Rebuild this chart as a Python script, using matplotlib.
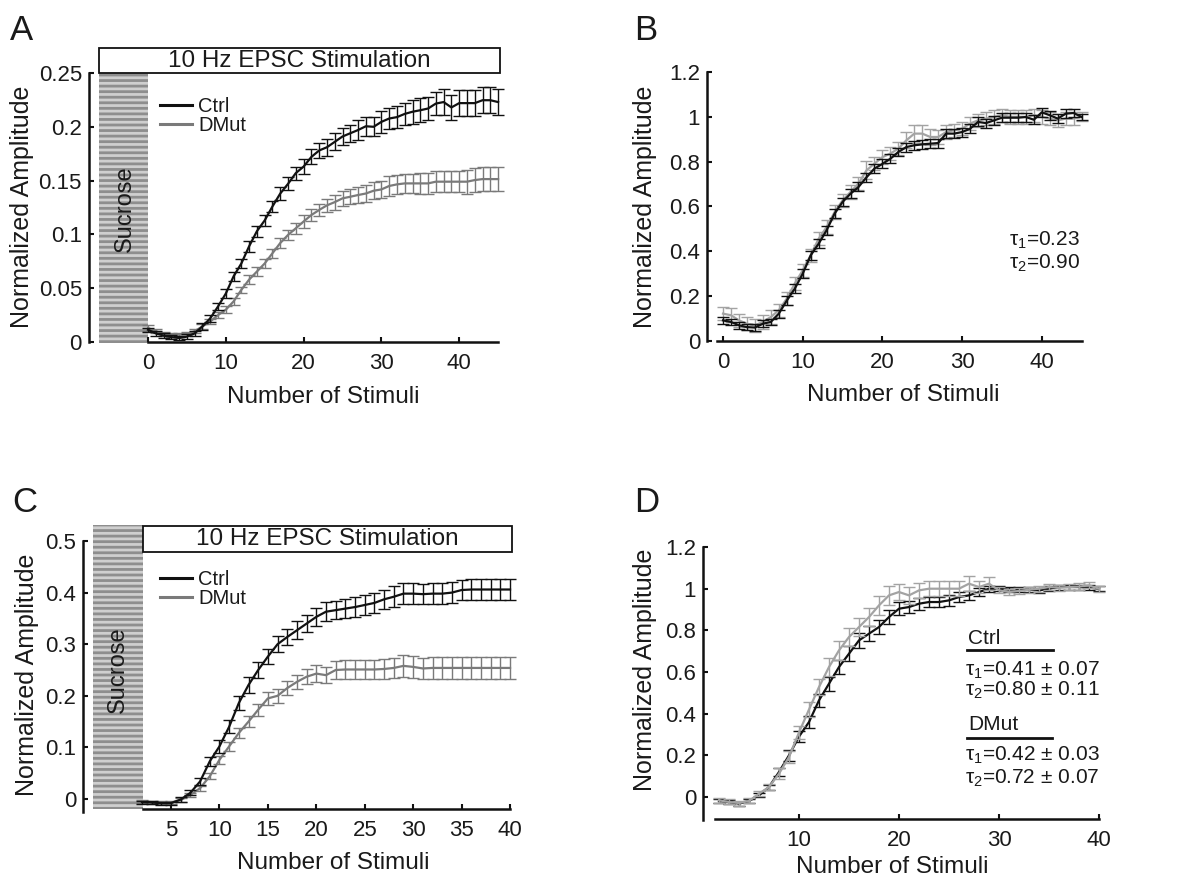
import matplotlib
matplotlib.use("Agg")
import matplotlib.pyplot as plt
from matplotlib.patches import Rectangle
from matplotlib.lines import Line2D

plt.rcParams['font.family'] = ['Liberation Sans', 'DejaVu Sans']
plt.rcParams['mathtext.fontset'] = 'custom'
plt.rcParams['mathtext.rm'] = 'Liberation Sans'
plt.rcParams['mathtext.it'] = 'Liberation Sans:italic'
plt.rcParams['hatch.linewidth'] = 2.0

# ---- panel A: raw normalized amplitude, stimuli 0..45
stim_a = list(range(0, 46))
a_ctrl = [0.0114, 0.008, 0.006, 0.0046, 0.0037, 0.005, 0.008, 0.0145, 0.022, 0.033,
          0.045, 0.061, 0.073, 0.089, 0.103, 0.113, 0.126, 0.138, 0.147, 0.157,
          0.163, 0.172, 0.178, 0.181, 0.186, 0.191, 0.194, 0.197, 0.2005, 0.200,
          0.2046, 0.2077, 0.209, 0.212, 0.214, 0.2154, 0.217, 0.2216, 0.223, 0.218,
          0.222, 0.222, 0.222, 0.2247, 0.2247, 0.223]
a_ctrl_err = [0.002, 0.002, 0.002, 0.002, 0.002, 0.002, 0.002, 0.003, 0.003, 0.003,
              0.004, 0.004, 0.004, 0.005, 0.005, 0.005, 0.005, 0.006, 0.006, 0.006,
              0.007, 0.007, 0.007, 0.008, 0.008, 0.008, 0.008, 0.009, 0.009, 0.009,
              0.010, 0.010, 0.010, 0.010, 0.011, 0.011, 0.011, 0.011, 0.012, 0.012,
              0.012, 0.012, 0.012, 0.012, 0.012, 0.012]
a_dmut = [0.013, 0.010, 0.0077, 0.0068, 0.0068, 0.0074, 0.010, 0.0145, 0.019, 0.025,
          0.030, 0.0377, 0.0485, 0.058, 0.0655, 0.073, 0.0825, 0.092, 0.0995, 0.1057,
          0.112, 0.118, 0.1227, 0.127, 0.130, 0.1335, 0.135, 0.1366, 0.138, 0.1406,
          0.1418, 0.145, 0.1465, 0.1474, 0.1474, 0.1474, 0.1474, 0.149, 0.149, 0.149,
          0.149, 0.149, 0.1505, 0.1514, 0.1514, 0.1514]
a_dmut_err = [0.003, 0.002, 0.002, 0.002, 0.002, 0.002, 0.002, 0.002, 0.002, 0.003,
              0.003, 0.003, 0.003, 0.004, 0.004, 0.004, 0.004, 0.005, 0.005, 0.005,
              0.006, 0.006, 0.006, 0.006, 0.007, 0.007, 0.007, 0.007, 0.008, 0.008,
              0.008, 0.009, 0.009, 0.009, 0.009, 0.010, 0.010, 0.010, 0.010, 0.010,
              0.010, 0.011, 0.011, 0.011, 0.011, 0.011]

# ---- panel B: A normalized to plateau
b_ctrl = [0.092, 0.085, 0.070, 0.062, 0.060, 0.077, 0.085, 0.122, 0.180, 0.233,
          0.300, 0.382, 0.434, 0.494, 0.568, 0.620, 0.657, 0.687, 0.730, 0.769,
          0.790, 0.813, 0.843, 0.865, 0.873, 0.877, 0.880, 0.883, 0.925, 0.925,
          0.932, 0.947, 0.977, 0.972, 0.984, 0.996, 0.996, 0.996, 0.999, 0.987,
          1.020, 1.007, 0.992, 1.014, 1.017, 0.999]
b_ctrl_err = [0.015, 0.015, 0.015, 0.015, 0.015, 0.015, 0.015, 0.018, 0.02, 0.02,
              0.02, 0.02, 0.02, 0.02, 0.02, 0.02, 0.02, 0.02, 0.02, 0.02,
              0.02, 0.02, 0.02, 0.02, 0.02, 0.02, 0.02, 0.02, 0.02, 0.02,
              0.02, 0.02, 0.02, 0.02, 0.02, 0.02, 0.02, 0.02, 0.02, 0.02,
              0.02, 0.02, 0.02, 0.02, 0.02, 0.015]
b_dmut = [0.122, 0.115, 0.092, 0.077, 0.070, 0.085, 0.107, 0.137, 0.189, 0.256,
          0.315, 0.382, 0.456, 0.508, 0.575, 0.627, 0.665, 0.702, 0.761, 0.791,
          0.820, 0.836, 0.858, 0.895, 0.925, 0.925, 0.910, 0.910, 0.932, 0.940,
          0.947, 0.970, 0.984, 0.992, 0.999, 1.007, 1.000, 1.000, 1.000, 1.007,
          1.000, 0.992, 0.984, 0.992, 0.992, 1.000]
b_dmut_err = [0.03, 0.03, 0.03, 0.03, 0.03, 0.03, 0.03, 0.03, 0.03, 0.03,
              0.03, 0.03, 0.03, 0.03, 0.03, 0.03, 0.03, 0.03, 0.04, 0.03,
              0.03, 0.03, 0.03, 0.035, 0.04, 0.04, 0.035, 0.03, 0.03, 0.03,
              0.03, 0.03, 0.03, 0.03, 0.03, 0.03, 0.03, 0.03, 0.03, 0.03,
              0.03, 0.03, 0.03, 0.03, 0.03, 0.02]

# ---- panel C: raw normalized amplitude, stimuli 2..40
stim_c = list(range(2, 41))
c_ctrl = [-0.006, -0.007, -0.008, -0.008, -0.001, 0.012, 0.034, 0.073, 0.102, 0.140,
          0.186, 0.221, 0.250, 0.276, 0.300, 0.314, 0.327, 0.340, 0.353, 0.363,
          0.366, 0.369, 0.372, 0.376, 0.380, 0.387, 0.392, 0.398, 0.398, 0.397,
          0.398, 0.398, 0.400, 0.405, 0.406, 0.406, 0.406, 0.406, 0.406]
c_ctrl_err = [0.003, 0.003, 0.003, 0.003, 0.004, 0.005, 0.007, 0.009, 0.012, 0.013,
              0.014, 0.015, 0.015, 0.015, 0.016, 0.016, 0.017, 0.017, 0.018, 0.018,
              0.018, 0.018, 0.019, 0.019, 0.019, 0.019, 0.020, 0.020, 0.020, 0.020,
              0.020, 0.020, 0.020, 0.020, 0.020, 0.020, 0.020, 0.020, 0.020]
c_dmut = [-0.005, -0.006, -0.007, -0.007, -0.002, 0.008, 0.021, 0.044, 0.076, 0.102,
          0.128, 0.150, 0.173, 0.195, 0.200, 0.215, 0.227, 0.237, 0.243, 0.240,
          0.250, 0.251, 0.251, 0.251, 0.251, 0.252, 0.254, 0.258, 0.256, 0.253,
          0.254, 0.254, 0.254, 0.254, 0.254, 0.254, 0.254, 0.254, 0.254]
c_dmut_err = [0.003, 0.003, 0.003, 0.003, 0.003, 0.004, 0.005, 0.006, 0.008, 0.009,
              0.010, 0.011, 0.012, 0.012, 0.013, 0.013, 0.014, 0.015, 0.016, 0.016,
              0.018, 0.018, 0.019, 0.019, 0.019, 0.020, 0.020, 0.021, 0.021, 0.021,
              0.021, 0.021, 0.021, 0.021, 0.021, 0.021, 0.021, 0.021, 0.021]

# ---- panel D: C normalized to plateau
d_ctrl = [-0.019, -0.024, -0.032, -0.019, 0.008, 0.048, 0.120, 0.200, 0.290, 0.360,
          0.464, 0.544, 0.624, 0.688, 0.752, 0.784, 0.816, 0.864, 0.904, 0.912,
          0.928, 0.936, 0.936, 0.944, 0.960, 0.968, 0.984, 1.000, 1.000, 0.995,
          0.995, 0.995, 0.992, 1.000, 1.008, 1.008, 1.008, 1.005, 1.000]
d_ctrl_err = [0.010, 0.010, 0.010, 0.010, 0.010, 0.012, 0.020, 0.025, 0.028, 0.030,
              0.030, 0.033, 0.035, 0.035, 0.035, 0.035, 0.035, 0.035, 0.030, 0.030,
              0.028, 0.026, 0.025, 0.025, 0.025, 0.022, 0.020, 0.015, 0.012, 0.012,
              0.012, 0.012, 0.012, 0.012, 0.012, 0.012, 0.012, 0.012, 0.012]
d_dmut = [-0.016, -0.024, -0.029, -0.019, 0.016, 0.048, 0.112, 0.192, 0.310, 0.420,
          0.528, 0.624, 0.704, 0.768, 0.816, 0.864, 0.920, 0.968, 0.984, 0.968,
          0.992, 1.000, 1.000, 1.000, 1.000, 1.024, 1.008, 1.024, 0.992, 0.984,
          0.989, 0.995, 1.000, 1.008, 1.005, 1.008, 1.010, 1.016, 1.000]
d_dmut_err = [0.012, 0.012, 0.012, 0.012, 0.012, 0.015, 0.025, 0.030, 0.032, 0.035,
              0.040, 0.045, 0.045, 0.045, 0.045, 0.045, 0.045, 0.045, 0.040, 0.040,
              0.035, 0.035, 0.035, 0.035, 0.035, 0.035, 0.030, 0.030, 0.015, 0.015,
              0.015, 0.015, 0.015, 0.015, 0.015, 0.015, 0.015, 0.015, 0.015]

W, H = 1201, 881
TXT = '#1a1a1a'
BLACK = '#111111'

fig = plt.figure(figsize=(W / 100, H / 100), dpi=100)


def fx(px):
    return px / W


def fy(py):
    return 1 - py / H


def make_axes(x0, xper, y0, yper, xlim, ylim):
    # x0/y0: pixel of data 0, xper/yper: pixels per data unit
    left = x0 + xlim[0] * xper
    right = x0 + xlim[1] * xper
    top = y0 - ylim[1] * yper
    bottom = y0 - ylim[0] * yper
    ax = fig.add_axes([fx(left), fy(bottom), (right - left) / W, (bottom - top) / H])
    ax.set_xlim(*xlim)
    ax.set_ylim(*ylim)
    ax.patch.set_alpha(0)
    for s in ['top', 'right']:
        ax.spines[s].set_visible(False)
    for s in ['left', 'bottom']:
        ax.spines[s].set_linewidth(1.8)
        ax.spines[s].set_color(BLACK)
    ax.tick_params(direction='in', length=3.5, width=1.5, colors=BLACK,
                   labelcolor=TXT, labelsize=16)
    ax.tick_params(axis='x', pad=8)
    ax.tick_params(axis='y', pad=5)
    return ax


def curves(ax, x, ctrl, ctrl_err, dmut, dmut_err, gray, gray_on_top=False):
    kw = dict(lw=1.6, elinewidth=1.0, capsize=4, capthick=1.0)
    zc, zd = (3, 2) if not gray_on_top else (2, 3)
    lc = ax.errorbar(x, ctrl, yerr=ctrl_err, color=BLACK, zorder=zc, label='Ctrl', **kw)
    ld = ax.errorbar(x, dmut, yerr=dmut_err, color=gray, zorder=zd, label='DMut', **kw)
    return lc, ld


def sucrose(ax, x0, x1, y0, y1, tx, ty):
    ax.add_patch(Rectangle((x0, y0), x1 - x0, y1 - y0, facecolor='#cfcfcf',
                           edgecolor='#8e8e8e', hatch='---', lw=0, zorder=0.5,
                           clip_on=False))
    ax.text(tx, ty, 'Sucrose', rotation=90, ha='center', va='center',
            fontsize=17, color=TXT)


def stim_box(ax, x0, x1, y0, y1):
    ax.add_patch(Rectangle((x0, y0), x1 - x0, y1 - y0, facecolor='white',
                           edgecolor=BLACK, lw=1.3, clip_on=False))
    ax.text((x0 + x1) / 2, (y0 + y1) / 2, '10 Hz EPSC Stimulation',
            ha='center', va='center', fontsize=17.5, color=TXT)


def labels(ax, ylab_px, xlab_px):
    ax.set_ylabel('Normalized Amplitude', fontsize=18, color=TXT)
    ax.set_xlabel('Number of Stimuli', fontsize=17.5, color=TXT)
    ax.yaxis.set_label_coords(fx(ylab_px[0]), fy(ylab_px[1]), transform=fig.transFigure)
    ax.xaxis.set_label_coords(fx(xlab_px[0]), fy(xlab_px[1]), transform=fig.transFigure)
    ax.yaxis.label.set_va('center')
    ax.xaxis.label.set_va('center')


def tick_fmt(vals):
    return [('%g' % v) for v in vals]


# ================= A
axA = make_axes(148, 7.78, 342, 1076, (-8.2, 46.5), (-0.01, 0.28))
axA.spines['left'].set_position(('data', -7.6))
axA.spines['left'].set_bounds(0, 0.25)
axA.spines['bottom'].set_position(('data', 0))
axA.spines['bottom'].set_bounds(0, 45)
yt = [0, 0.05, 0.1, 0.15, 0.2, 0.25]
axA.set_yticks(yt, tick_fmt(yt))
axA.set_xticks([0, 10, 20, 30, 40])
sucrose(axA, -6.3, 0, -0.001, 0.25, -3.0, 0.124)
stim_box(axA, -6.3, 45.3, 0.25, 0.273)
hA = curves(axA, stim_a, a_ctrl, a_ctrl_err, a_dmut, a_dmut_err, '#7a7a7a')
labels(axA, (22, 207), (323, 397))

# ================= B
axB = make_axes(723, 7.97, 341, 224.2, (-2.6, 46.5), (-0.04, 1.25))
axB.spines['left'].set_position(('data', -2.0))
axB.spines['left'].set_bounds(0, 1.2)
axB.spines['bottom'].set_position(('data', 0))
axB.spines['bottom'].set_bounds(-0.75, 45)
yt = [0, 0.2, 0.4, 0.6, 0.8, 1, 1.2]
axB.set_yticks(yt, tick_fmt(yt))
axB.set_xticks([0, 10, 20, 30, 40])
curves(axB, stim_a, b_ctrl, b_ctrl_err, b_dmut, b_dmut_err, '#a3a3a3')
axB.text(44.8, 0.45, r'$\mathregular{\tau_1}$=0.23', ha='right', va='center',
         fontsize=15, color=TXT)
axB.text(44.8, 0.348, r'$\mathregular{\tau_2}$=0.90', ha='right', va='center',
         fontsize=15, color=TXT)
labels(axB, (645, 207), (903, 395))

# ================= C
axC = make_axes(122.6, 9.686, 799, 516, (-4.6, 41.2), (-0.04, 0.56))
axC.spines['left'].set_position(('data', -4.09))
axC.spines['left'].set_bounds(-0.025, 0.5)
axC.spines['bottom'].set_position(('data', -0.019))
axC.spines['bottom'].set_bounds(2.1, 40)
yt = [0, 0.1, 0.2, 0.3, 0.4, 0.5]
axC.set_yticks(yt, tick_fmt(yt))
axC.set_xticks([5, 10, 15, 20, 25, 30, 35, 40])
sucrose(axC, -3.05, 2.1, -0.019, 0.531, -0.5, 0.25)
stim_box(axC, 2.1, 40.2, 0.479, 0.529)
hC = curves(axC, stim_c, c_ctrl, c_ctrl_err, c_dmut, c_dmut_err, '#7a7a7a')
labels(axC, (27, 675), (333, 863))

# ================= D
axD = make_axes(699, 10.0, 797, 208.3, (0, 41.2), (-0.13, 1.25))
axD.spines['left'].set_position(('data', 0.4))
axD.spines['left'].set_bounds(-0.11, 1.2)
axD.spines['bottom'].set_position(('data', -0.106))
axD.spines['bottom'].set_bounds(1.6, 40)
yt = [0, 0.2, 0.4, 0.6, 0.8, 1, 1.2]
axD.set_yticks(yt, tick_fmt(yt))
axD.set_xticks([10, 20, 30, 40])
curves(axD, stim_c, d_ctrl, d_ctrl_err, d_dmut, d_dmut_err, '#a3a3a3', gray_on_top=True)
labels(axD, (645, 670), (892, 867))

fsD = 15
axD.text(26.9, 0.763, 'Ctrl', ha='left', va='center', fontsize=fsD, color=TXT)
axD.add_line(Line2D([26.8, 35.4], [0.706, 0.706], color=BLACK, lw=2.0))
axD.text(26.6, 0.61, r'$\mathregular{\tau_1}$=0.41 $\pm$ 0.07', ha='left', va='center',
         fontsize=fsD, color=TXT)
axD.text(26.6, 0.514, r'$\mathregular{\tau_2}$=0.80 $\pm$ 0.11', ha='left', va='center',
         fontsize=fsD, color=TXT)
axD.text(26.9, 0.346, 'DMut', ha='left', va='center', fontsize=fsD, color=TXT)
axD.add_line(Line2D([26.8, 35.3], [0.283, 0.283], color=BLACK, lw=2.0))
axD.text(26.6, 0.20, r'$\mathregular{\tau_1}$=0.42 $\pm$ 0.03', ha='left', va='center',
         fontsize=fsD, color=TXT)
axD.text(26.6, 0.09, r'$\mathregular{\tau_2}$=0.72 $\pm$ 0.07', ha='left', va='center',
         fontsize=fsD, color=TXT)

# legends in A and C
for ax, hs, top in [(axA, hA, 97), (axC, hC, 570)]:
    lines = [Line2D([], [], color=BLACK, lw=2.2), Line2D([], [], color='#7a7a7a', lw=2.2)]
    ax.legend(lines, ['Ctrl', 'DMut'], loc='upper left', frameon=False,
              bbox_to_anchor=(fx(160), fy(top)), bbox_transform=fig.transFigure,
              borderpad=0, borderaxespad=0, handlelength=1.6, handletextpad=0.3,
              labelspacing=0.0, fontsize=14.5, labelcolor=TXT)

# panel letters
for letter, px, py in [('A', 10, 14), ('B', 634, 14), ('C', 12, 486), ('D', 634, 486)]:
    fig.text(fx(px), fy(py), letter, ha='left', va='top', fontsize=25, color=TXT)

fig.savefig('out.png', dpi=100)
